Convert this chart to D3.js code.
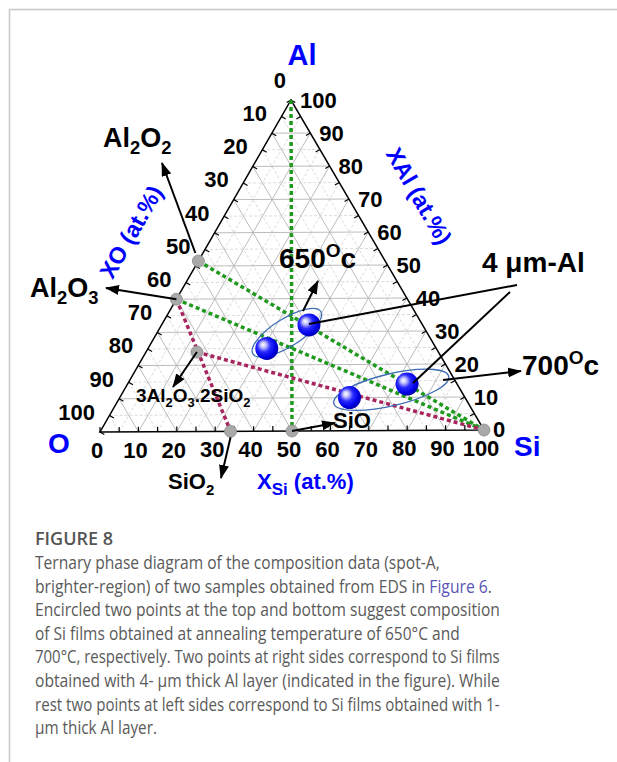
<!DOCTYPE html>
<html>
<head>
<meta charset="utf-8">
<script src="https://cdn.jsdelivr.net/npm/d3@7"></script>
<style>
  body { margin: 0; background: #fff; }
  svg text { font-family: "Liberation Sans", Arial, sans-serif; }
  .cap { font-family: "Open Sans", "Noto Sans", sans-serif; white-space: pre; }
</style>
</head>
<body>
<div id="chart"></div>
<script>
// sample compositions (at.%)
const sampleAl = [25, 32, 10, 14];
const sampleSi = [31, 38.5, 60, 73];
const sampleGroup = ["650", "650", "700", "700"];

// reference phases (at.%)
const phaseNames = ["Al", "Al2O2", "Al2O3", "3Al2O3.2SiO2", "SiO2", "SiO", "Si"];
const phaseAl = [100, 51.5, 40, 24, 0, 0, 0];
const phaseSi = [0, 0, 0, 13.3, 34, 50, 100];
const markedPhases = ["Al2O2", "Al2O3", "3Al2O3.2SiO2", "SiO2", "SiO", "Si"];

// tie lines
const tieFrom = ["Al", "Al2O2", "Al2O3", "Al2O3", "3Al2O3.2SiO2"];
const tieTo = ["SiO", "Si", "Si", "SiO2", "Si"];
const tieColor = ["#1f9a1f", "#1f9a1f", "#1f9a1f", "#a8245e", "#a8245e"];

const tickValues = d3.range(0, 101, 10);
const minorValues = d3.range(5, 100, 5);

const captionLines = [
  "Ternary phase diagram of the composition data (spot-A,",
  "brighter-region) of two samples obtained from EDS in |Figure 6|.",
  "Encircled two points at the top and bottom suggest composition",
  "of Si films obtained at annealing temperature of 650°C and",
  "700°C, respectively. Two points at right sides correspond to Si films",
  "obtained with 4- µm thick Al layer (indicated in the figure). While",
  "rest two points at left sides correspond to Si films obtained with 1-",
  "µm thick Al layer."
];
const captionWidths = [405, 457, 465, 425, 465, 465, 465, 122];

const W = 617, H = 762;
const svg = d3.select("#chart").append("svg")
  .attr("width", W).attr("height", H);

// frame
svg.append("line").attr("x1", 9).attr("y1", 9.5).attr("x2", W).attr("y2", 9.5)
  .attr("stroke", "#c8c8c8").attr("stroke-width", 1.5);
svg.append("line").attr("x1", 9.5).attr("y1", 9).attr("x2", 9.5).attr("y2", H)
  .attr("stroke", "#c8c8c8").attr("stroke-width", 1.5);

// triangle corners (O bottom-left, Si bottom-right, Al top)
const O = [100, 432], SI = [484, 430], AL = [291, 100];
const siX = d3.scaleLinear().domain([0, 100]).range([0, SI[0] - O[0]]);
const siY = d3.scaleLinear().domain([0, 100]).range([0, SI[1] - O[1]]);
const alX = d3.scaleLinear().domain([0, 100]).range([0, AL[0] - O[0]]);
const alY = d3.scaleLinear().domain([0, 100]).range([0, AL[1] - O[1]]);
const proj = (al, si) => [O[0] + siX(si) + alX(al), O[1] + siY(si) + alY(al)];
const phase = name => {
  const i = phaseNames.indexOf(name);
  return proj(phaseAl[i], phaseSi[i]);
};

const defs = svg.append("defs");
defs.append("marker").attr("id", "arr")
  .attr("markerUnits", "userSpaceOnUse")
  .attr("markerWidth", 14).attr("markerHeight", 10)
  .attr("refX", 13).attr("refY", 5).attr("orient", "auto")
  .append("path").attr("d", "M0,0 L14,5 L0,10 Z").attr("fill", "#000");

const grad = defs.append("radialGradient").attr("id", "ball")
  .attr("cx", "0.42").attr("cy", "0.42").attr("r", "0.6")
  .attr("fx", "0.33").attr("fy", "0.33");
[[0, "#ffffff"], [0.2, "#c4c4ff"], [0.48, "#2a2aff"], [0.8, "#0000e6"], [1, "#0000a8"]]
  .forEach(s => grad.append("stop").attr("offset", s[0]).attr("stop-color", s[1]));

// grid
const grid = svg.append("g");
minorValues.forEach(v => {
  const major = v % 10 === 0;
  const segs = [
    [proj(v, 0), proj(v, 100 - v)],
    [proj(0, v), proj(100 - v, v)],
    [proj(100 - v, 0), proj(0, 100 - v)]
  ];
  segs.forEach(s => {
    grid.append("line")
      .attr("x1", s[0][0]).attr("y1", s[0][1]).attr("x2", s[1][0]).attr("y2", s[1][1])
      .attr("stroke", major ? "#b4b4b4" : "#d2d2d2")
      .attr("stroke-width", major ? 0.9 : 0.8)
      .attr("stroke-dasharray", major ? null : "3,2");
  });
});

// triangle outline
svg.append("path")
  .attr("d", d3.line()([O, SI, AL, O]) + "Z")
  .attr("fill", "none").attr("stroke", "#000").attr("stroke-width", 1.5);

// ticks (inward, perpendicular)
function tick(p, dir) {
  svg.append("line").attr("x1", p[0]).attr("y1", p[1])
    .attr("x2", p[0] + dir[0] * 5).attr("y2", p[1] + dir[1] * 5)
    .attr("stroke", "#000").attr("stroke-width", 1.2);
}
d3.range(0, 101, 5).forEach(v => {
  tick(proj(0, v), [0, -1]);
  tick(proj(100 - v, 0), [0.866, 0.5]);
  tick(proj(v, 100 - v), [-0.866, 0.5]);
});

// tick labels
const lab = svg.append("g").attr("font-weight", "bold").attr("font-size", 22).attr("fill", "#000");
tickValues.forEach(v => {
  const b = proj(0, v);
  lab.append("text").attr("x", b[0] - 3).attr("y", b[1] + 26)
    .attr("text-anchor", "middle").text(v);
  const l = proj(100 - v, 0);
  lab.append("text").attr("x", l[0] - 5).attr("y", l[1] - 20).attr("dy", "0.35em")
    .attr("text-anchor", "end").text(v);
  const r = proj(v, 100 - v);
  lab.append("text").attr("x", r[0] + 9).attr("y", r[1] - (v === 0 ? 1 : 0)).attr("dy", "0.35em")
    .attr("text-anchor", "start").text(v);
});

// axis titles
const blue = "#0000ff";
svg.append("text").attr("x", 302).attr("y", 65).attr("text-anchor", "middle")
  .attr("font-size", 29).attr("font-weight", "bold").attr("fill", blue).text("Al");
svg.append("text").attr("x", 59).attr("y", 453).attr("text-anchor", "middle")
  .attr("font-size", 28).attr("font-weight", "bold").attr("fill", blue).text("O");
svg.append("text").attr("x", 514).attr("y", 456)
  .attr("font-size", 28).attr("font-weight", "bold").attr("fill", blue).text("Si");
svg.append("text").attr("transform", "translate(138,236) rotate(-60)")
  .attr("text-anchor", "middle").attr("font-size", 23).attr("font-weight", "bold")
  .attr("fill", blue).text("XO (at.%)");
svg.append("text").attr("transform", "translate(412,200) rotate(60)")
  .attr("text-anchor", "middle").attr("font-size", 23).attr("font-weight", "bold")
  .attr("fill", blue).text("XAl (at.%)");
const xs = svg.append("text").attr("x", 257).attr("y", 489)
  .attr("font-size", 22).attr("font-weight", "bold").attr("fill", blue);
xs.append("tspan").text("X");
xs.append("tspan").attr("dy", 6).attr("font-size", 17).text("Si");
xs.append("tspan").attr("dy", -6).text(" (at.%)");

// tie lines
tieFrom.forEach((f, i) => {
  const a = phase(f), b = phase(tieTo[i]);
  svg.append("line").attr("x1", a[0]).attr("y1", a[1]).attr("x2", b[0]).attr("y2", b[1])
    .attr("stroke", tieColor[i]).attr("stroke-width", 3.5)
    .attr("stroke-dasharray", "4,3");
});

// phase markers
markedPhases.forEach(n => {
  const p = phase(n);
  svg.append("circle").attr("cx", p[0]).attr("cy", p[1]).attr("r", 6)
    .attr("fill", "#a9a9a9").attr("stroke", "#8a8a8a").attr("stroke-width", 0.8);
});

// ellipses around sample groups
const ellipses = [
  { group: "650", rx: 40, ry: 14, dx: -1, dy: -4, rot: -3 },
  { group: "700", rx: 59, ry: 16, dx: 13, dy: -1, rot: 0 }
];
ellipses.forEach(e => {
  const pts = sampleGroup.map((g, i) => i).filter(i => sampleGroup[i] === e.group)
    .map(i => proj(sampleAl[i], sampleSi[i]));
  const cx = d3.mean(pts, p => p[0]) + e.dx, cy = d3.mean(pts, p => p[1]) + e.dy;
  const ang = Math.atan2(pts[1][1] - pts[0][1], pts[1][0] - pts[0][0]) * 180 / Math.PI + e.rot;
  svg.append("ellipse").attr("cx", 0).attr("cy", 0).attr("rx", e.rx).attr("ry", e.ry)
    .attr("transform", `translate(${cx},${cy}) rotate(${ang})`)
    .attr("fill", "none").attr("stroke", "#3d6cb3").attr("stroke-width", 1.3);
});

// sample points
sampleAl.forEach((a, i) => {
  const p = proj(a, sampleSi[i]);
  svg.append("circle").attr("cx", p[0]).attr("cy", p[1]).attr("r", 11.5)
    .attr("fill", "url(#ball)");
});

// annotation arrows and lines
function arrow(a, b, head) {
  svg.append("line").attr("x1", a[0]).attr("y1", a[1]).attr("x2", b[0]).attr("y2", b[1])
    .attr("stroke", "#000").attr("stroke-width", 2)
    .attr("marker-end", head ? "url(#arr)" : null);
}
const pAl2O2 = phase("Al2O2");
arrow([pAl2O2[0] - 3, pAl2O2[1] - 8], [162, 163], true);
const pAl2O3 = phase("Al2O3");
arrow(pAl2O3, [106, 288], true);
const pMul = phase("3Al2O3.2SiO2");
arrow(pMul, [173, 387], true);
const pSiO2 = phase("SiO2");
arrow([pSiO2[0], pSiO2[1] + 6], [221, 478], true);
const pSiO = phase("SiO");
arrow(pSiO, [335, 423], true);
arrow([303, 311], [318, 281], true);
arrow([443, 380], [521, 371], true);
const s650 = proj(sampleAl[1], sampleSi[1]);
const s700 = proj(sampleAl[3], sampleSi[3]);
arrow([s650[0], s650[1] - 1], [517, 285], false);
arrow([s700[0] + 6, s700[1] - 1], [510, 292], false);

// annotation labels
function chem(x, y, size, parts) {
  const t = svg.append("text").attr("x", x).attr("y", y)
    .attr("font-size", size).attr("font-weight", "bold").attr("fill", "#000");
  let shift = 0;
  parts.forEach(p => {
    const target = p[1] === "sub" ? size * 0.26 : p[1] === "sup" ? -size * 0.38 : 0;
    const sz = p[1] ? size * 0.68 : size;
    t.append("tspan").attr("dy", target - shift).attr("font-size", sz).text(p[0]);
    shift = target;
  });
}
chem(103, 147, 27, [["Al"], ["2", "sub"], ["O"], ["2", "sub"]]);
chem(30, 297, 27, [["Al"], ["2", "sub"], ["O"], ["3", "sub"]]);
chem(136, 402, 19, [["3Al"], ["2", "sub"], ["O"], ["3", "sub"], [".2SiO"], ["2", "sub"]]);
chem(168, 489, 22, [["SiO"], ["2", "sub"]]);
chem(333, 428, 22, [["SiO"]]);
chem(279, 268, 28, [["650"], ["O", "sup"], ["c"]]);
chem(522, 375, 28, [["700"], ["O", "sup"], ["c"]]);
chem(482, 272, 28, [["4 μm-Al"]]);

// caption
svg.append("text").attr("class", "cap").attr("x", 35).attr("y", 545)
  .attr("font-size", 18).attr("font-weight", 600).attr("fill", "#555").text("FIGURE 8");
captionLines.forEach((line, i) => {
  const y = 569 + i * 23.6;
  const parts = line.split("|").filter(p => p.length);
  const g = svg.append("g");
  const nodes = parts.map((p, j) => g.append("text").attr("class", "cap")
    .attr("y", 0).attr("font-size", 17.5)
    .attr("fill", parts.length > 1 && j === 1 ? "#5a55b5" : "#5a5a5a").text(p));
  const widths = nodes.map(n => n.node().getComputedTextLength());
  const k = captionWidths[i] / d3.sum(widths);
  let x = 0;
  nodes.forEach((n, j) => { n.attr("x", x); x += widths[j]; });
  g.attr("transform", `translate(35,${y}) scale(${k},1)`);
});
</script>
</body>
</html>
